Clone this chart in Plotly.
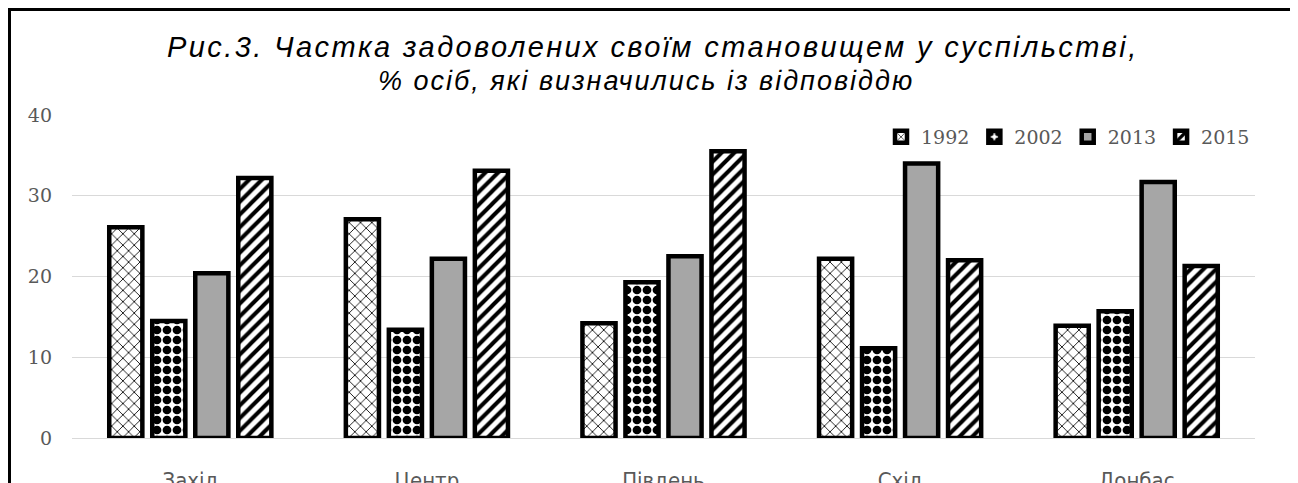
import plotly.graph_objects as go

categories = ["Захід", "Центр", "Південь", "Схід", "Донбас"]
years = ["1992", "2002", "2013", "2015"]
v1992 = [26.1, 27.1, 14.2, 22.2, 13.9]
v2002 = [14.5, 13.4, 19.3, 11.1, 15.7]
v2013 = [20.4, 22.2, 22.5, 34.0, 31.7]
v2015 = [32.2, 33.1, 35.5, 22.0, 21.3]
series = [v1992, v2002, v2013, v2015]
ytick_vals = [0, 10, 20, 30, 40]

title1 = "Рис.3. Частка задоволених своїм становищем у суспільстві,"
title2 = "% осіб, які визначились із відповіддю"

styles = [
    dict(color="white", pattern=dict(shape="x", fgcolor="black", fgopacity=1, bgcolor="white", size=8, solidity=0.2)),
    dict(color="white", pattern=dict(shape=".", fgcolor="black", fgopacity=1, bgcolor="white", size=10, solidity=0.6)),
    dict(color="#a6a6a6"),
    dict(color="white", pattern=dict(shape="/", fgcolor="black", fgopacity=1, bgcolor="white", size=9, solidity=0.45)),
]

fig = go.Figure()
for name, vals, st in zip(years, series, styles):
    marker = dict(line=dict(color="black", width=4.5), **st)
    fig.add_trace(go.Bar(x=categories, y=vals, name=name, marker=marker))

# page has an 8px body margin; figure coordinates = page coordinates - 8
W, H = 1290, 475
L, R, T, B = 64, 43, 107, 45
pw, ph = W - L - R, H - T - B

def px_x(x):
    return (x - L) / pw

def px_y(y):
    return (H - B - y) / ph

fig.update_layout(
    width=W, height=H,
    margin=dict(l=L, r=R, t=T, b=B, autoexpand=False),
    paper_bgcolor="white", plot_bgcolor="white",
    barmode="group", bargap=0.273, bargroupgap=0.23,
    font=dict(family="DejaVu Serif, serif", color="#595959"),
    xaxis=dict(
        showgrid=False, zeroline=False, showline=False, ticks="", automargin=False,
        tickfont=dict(family="Liberation Sans Narrow, DejaVu Sans Condensed, sans-serif", size=22, color="#595959"),
        ticklabelstandoff=27,
    ),
    yaxis=dict(
        range=[0, 40], tickvals=ytick_vals, showgrid=True, gridcolor="#d9d9d9", gridwidth=1,
        zeroline=True, zerolinecolor="#d9d9d9", zerolinewidth=1, showline=False, automargin=False,
        tickfont=dict(family="DejaVu Serif, serif", size=19, color="#595959"),
        ticklabelstandoff=19,
    ),
    legend=dict(
        orientation="h", x=1.0, xanchor="right", y=px_y(129), yanchor="middle",
        font=dict(family="DejaVu Serif, serif", size=19, color="#595959"),
        itemwidth=30, bgcolor="rgba(0,0,0,0)", traceorder="normal",
    ),
    showlegend=True,
)

fig.add_annotation(
    text="<span style='letter-spacing:2.4px'>" + title1 + "</span>",
    xref="paper", yref="paper", x=px_x(645), y=px_y(39), xanchor="center", yanchor="middle",
    showarrow=False,
    font=dict(family="Liberation Sans, Arial, sans-serif", size=29, color="black", style="italic"),
)
fig.add_annotation(
    text="<span style='letter-spacing:2.0px'>" + title2 + "</span>",
    xref="paper", yref="paper", x=px_x(638), y=px_y(73), xanchor="center", yanchor="middle",
    showarrow=False,
    font=dict(family="Liberation Sans, Arial, sans-serif", size=27, color="black", style="italic"),
)

fig.add_shape(type="rect", xref="paper", yref="paper",
              x0=px_x(1.5), x1=px_x(1283.5), y0=px_y(520), y1=px_y(1.5),
              line=dict(color="black", width=3), fillcolor="rgba(0,0,0,0)", layer="above")

fig.write_html("out.html")
